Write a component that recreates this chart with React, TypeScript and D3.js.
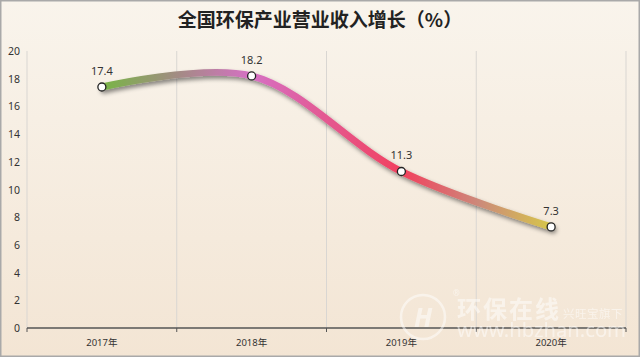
import React from "react";
import * as d3 from "d3";

const categories = ["2017年", "2018年", "2019年", "2020年"];
const values = [17.4, 18.2, 11.3, 7.3];
const yTicks = [0, 2, 4, 6, 8, 10, 12, 14, 16, 18, 20];
const title = "全国环保产业营业收入增长（%）";

export default function App() {
  const W = 640, H = 357;
  const left = 27, right = 626, top = 51, bottom = 328;
  const x = d3.scaleBand<string>().domain(categories).range([left, right]);
  const y = d3.scaleLinear().domain([0, 20]).range([bottom, top]);
  const pts: [number, number][] = values.map((v, i) => [x(categories[i])! + x.bandwidth() / 2, y(v)]);
  const line = d3.line().curve(d3.curveCatmullRom.alpha(0.5))(pts) || "";
  const font = "'Noto Sans', 'Noto Sans CJK SC', sans-serif";
  const cjk = "'Noto Sans CJK SC', sans-serif";
  return (
    <svg width={W} height={H} style={{ position: "absolute", left: 0, top: 0 }}>
      <defs>
        <linearGradient id="bg" x1="0" y1="0" x2="0" y2="1">
          <stop offset="0" stopColor="#f9f4ec" />
          <stop offset="1" stopColor="#f3e5d4" />
        </linearGradient>
        <linearGradient id="lg" gradientUnits="userSpaceOnUse" x1={pts[0][0]} y1="0" x2={pts[3][0]} y2="0">
          <stop offset="0" stopColor="#78b546" />
          <stop offset="0.17" stopColor="#a38b84" />
          <stop offset="0.333" stopColor="#d670c4" />
          <stop offset="0.667" stopColor="#f2405e" />
          <stop offset="0.84" stopColor="#cc8a7a" />
          <stop offset="1" stopColor="#d6c64a" />
        </linearGradient>
        <filter id="sh" x="-10%" y="-30%" width="120%" height="160%">
          <feDropShadow dx="2" dy="3" stdDeviation="2" floodColor="#000" floodOpacity="0.45" />
        </filter>
      </defs>
      <rect x={0} y={0} width={W} height={H} fill="url(#bg)" />
      <rect x={0.75} y={0.75} width={W - 1.5} height={H - 1.5} fill="none" stroke="#a9a9a9" strokeWidth={1.5} />
      <text x={320} y={27} textAnchor="middle" fontFamily={cjk} fontWeight="bold" fontSize={19} fill="#222">{title}</text>
      {[...categories.map(c => x(c)!), right].map((gx, i) => (
        <line key={i} x1={gx} x2={gx} y1={top} y2={bottom} stroke="#d9d6d2" strokeWidth={1} />
      ))}
      {yTicks.map(t => (
        <text key={t} x={20} y={y(t) + 4} textAnchor="end" fontFamily={font} fontSize={10.5} fill="#333">{t}</text>
      ))}
      <line x1={left} x2={right} y1={bottom} y2={bottom} stroke="#555" strokeWidth={1.5} />
      {[...categories.map(c => x(c)!), right].map((gx, i) => (
        <line key={i} x1={gx} x2={gx} y1={bottom} y2={bottom + 4} stroke="#555" strokeWidth={1} />
      ))}
      {categories.map(c => (
        <text key={c} x={x(c)! + x.bandwidth() / 2} y={bottom + 18} textAnchor="middle" fontFamily={font} fontSize={9.5} fill="#333">{c}</text>
      ))}
      {/* watermark */}
      <g opacity={0.5}>
        <circle cx={423} cy={317} r={22} fill="none" stroke="#fff" strokeWidth={2.5} />
        <text x={423} y={327} textAnchor="middle" fontFamily={font} fontSize={26} fontStyle="italic" fontWeight="bold" fill="#fff">H</text>
        <text x={453} y={296} fontFamily={font} fontSize={8} fill="#fff">®</text>
        <text x={457} y={318} fontFamily={cjk} fontWeight="bold" fontSize={24} fill="#fff" letterSpacing={2}>环保在线</text>
        <text x={563} y={318} fontFamily={cjk} fontSize={11.5} fill="#fff" letterSpacing={0.5}>兴旺宝旗下</text>
        <text x={457} y={337} fontFamily={font} fontSize={19} fill="#fff" textLength={169} lengthAdjust="spacingAndGlyphs">www.hbzhan.com</text>
      </g>
      <path d={line} fill="none" stroke="url(#lg)" strokeWidth={7} strokeLinecap="round" filter="url(#sh)" />
      {pts.map((p, i) => (
        <g key={i}>
          <circle cx={p[0]} cy={p[1]} r={4} fill="#fff" stroke="#222" strokeWidth={1.3} />
          <text x={p[0]} y={p[1] - 12} textAnchor="middle" fontFamily={font} fontSize={11} fill="#333">{values[i]}</text>
        </g>
      ))}
    </svg>
  );
}
